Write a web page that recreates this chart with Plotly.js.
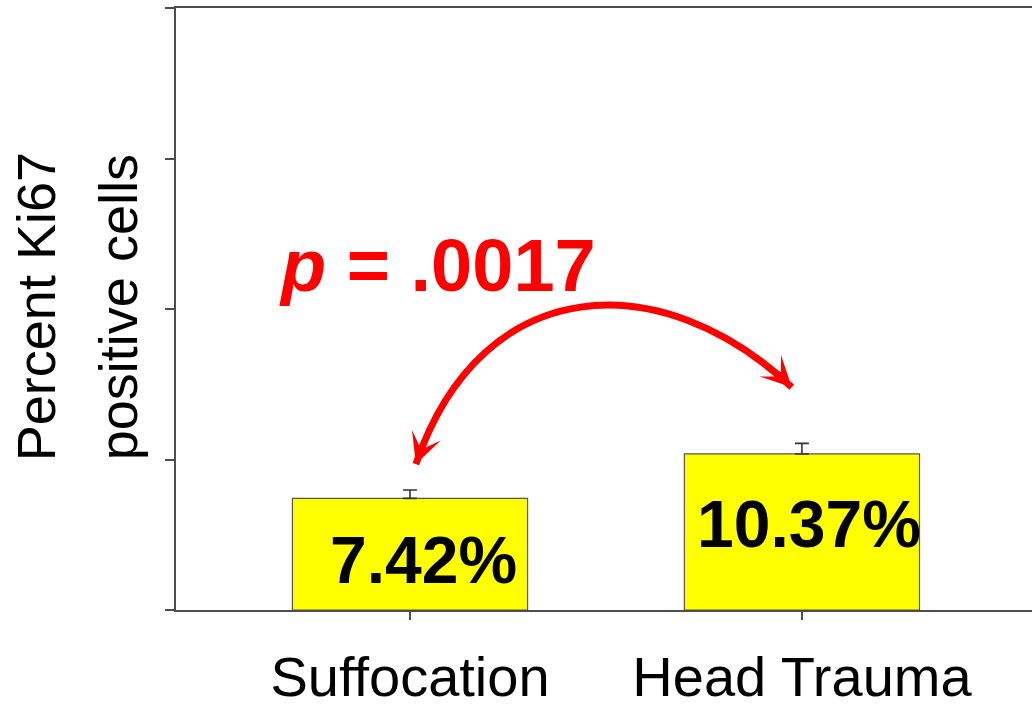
<!DOCTYPE html>
<html>
<head>
<meta charset="utf-8">
<script src="https://cdn.plot.ly/plotly-3.0.1.min.js"></script>
<style>
  html, body { margin: 0; padding: 0; background: #ffffff; }
  #chart { width: 1032px; height: 707px; }
</style>
</head>
<body>
<div id="chart"></div>
<script>
// Ki67 proliferation index by cause of death
const groups = ['Suffocation', 'Head Trauma'];
const percentPositive = [7.42, 10.37];
const stdError = [0.55, 0.7];
const pValueText = '.0017';
const yTitleLines = ['Percent Ki67', 'positive cells'];
const yTicks = [0, 10, 20, 30, 40];

const FONT = '"Liberation Sans", Arial, Helvetica, sans-serif';
const AXIS_GREY = '#4d4d4d';

const bars = {
  type: 'bar',
  x: groups,
  y: percentPositive,
  width: 0.6,
  marker: { color: '#ffff00', line: { color: '#555555', width: 1.2 } },
  error_y: {
    type: 'data',
    symmetric: false,
    array: stdError,
    arrayminus: stdError.map(() => 0),
    color: '#333333',
    thickness: 1.6,
    width: 7
  },
  hoverinfo: 'skip'
};

// value labels sit inside each bar
const labelOffsets = [{ y: 3.3, xshift: 14 }, { y: 5.7, xshift: 7 }];
const valueLabels = groups.map((g, i) => ({
  x: g, y: labelOffsets[i].y, xref: 'x', yref: 'y',
  xshift: labelOffsets[i].xshift,
  text: percentPositive[i].toFixed(2) + '%',
  showarrow: false,
  font: { family: FONT, size: 66, color: '#000000', weight: 'bold' },
  xanchor: 'center', yanchor: 'middle'
}));

// two-line rotated y-axis title
const yTitle = yTitleLines.map((line, i) => ({
  x: 0, y: 0.503, xref: 'paper', yref: 'paper',
  xshift: [-140, -58][i],
  text: line,
  textangle: -90,
  showarrow: false,
  font: { family: FONT, size: 54, color: '#000000' },
  xanchor: 'center', yanchor: 'middle'
}));

const pLabel = {
  x: 0.07, y: 22.9, xref: 'x', yref: 'y',
  text: '<i>p</i> = ' + pValueText,
  showarrow: false,
  font: { family: FONT, size: 74, color: '#ff0000', weight: 'bold' },
  xanchor: 'center', yanchor: 'middle'
};

// comparison arc between the two groups (x in category units, y in percent)
const arcStart = [0.015, 9.7];
const arcC1 = [0.185, 22.6];
const arcC2 = [0.645, 22.9];
const arcEnd = [0.974, 14.8];
const arcShape = {
  type: 'path', xref: 'x', yref: 'y',
  path: `M ${arcStart[0]},${arcStart[1]} C ${arcC1[0]},${arcC1[1]} ${arcC2[0]},${arcC2[1]} ${arcEnd[0]},${arcEnd[1]}`,
  line: { color: '#ff0000', width: 7 }
};

const arrowStyle = {
  showarrow: true, text: '', arrowhead: 3, arrowsize: 0.85, arrowwidth: 6,
  arrowcolor: '#ff0000', xref: 'x', yref: 'y'
};
const arrowHeads = [
  Object.assign({}, arrowStyle, { x: arcStart[0], y: arcStart[1], ax: 8, ay: -22 }),
  Object.assign({}, arrowStyle, { x: arcEnd[0], y: arcEnd[1], ax: -16, ay: -16 })
];

const layout = {
  width: 1032, height: 707,
  margin: { l: 176, r: 0, t: 8, b: 97 },
  paper_bgcolor: '#ffffff', plot_bgcolor: '#ffffff',
  showlegend: false,
  font: { family: FONT, color: '#000000' },
  xaxis: {
    type: 'category',
    range: [-0.597, 1.587],
    showline: true, linecolor: AXIS_GREY, linewidth: 2, mirror: true,
    ticks: 'outside', ticklen: 8, tickwidth: 2, tickcolor: AXIS_GREY,
    tickfont: { family: FONT, size: 56, color: '#000000' },
    ticklabelstandoff: 9,
    showgrid: false, zeroline: false, fixedrange: true
  },
  yaxis: {
    range: [0, 40],
    tickvals: yTicks,
    showticklabels: false,
    showline: true, linecolor: AXIS_GREY, linewidth: 2,
    ticks: 'outside', ticklen: 9, tickwidth: 2, tickcolor: AXIS_GREY,
    showgrid: false, zeroline: false, fixedrange: true
  },
  shapes: [arcShape],
  annotations: [...valueLabels, ...yTitle, pLabel, ...arrowHeads]
};

Plotly.newPlot('chart', [bars], layout, { displayModeBar: false, staticPlot: true });
</script>
</body>
</html>
